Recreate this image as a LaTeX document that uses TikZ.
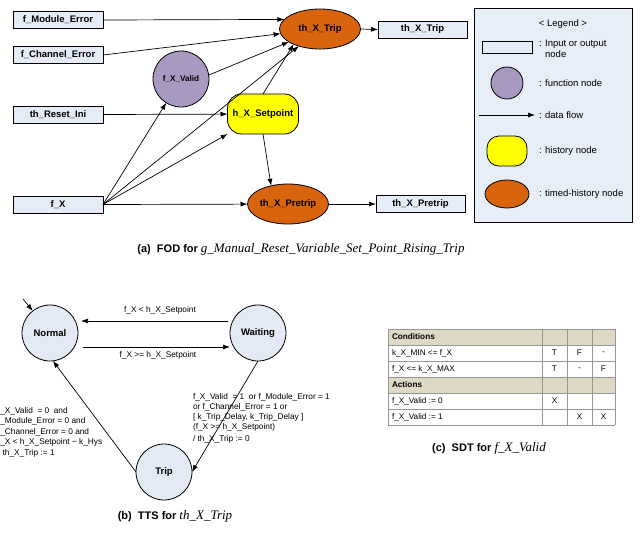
\documentclass[tikz,border=0pt]{standalone}
\usepackage{fontspec}
\setmainfont{Liberation Sans}
\newfontfamily\capserif{Liberation Serif}
\usetikzlibrary{arrows.meta,shapes.geometric}

\definecolor{boxfill}{RGB}{230,236,247}
\definecolor{legfill}{RGB}{232,238,248}
\definecolor{funcfill}{RGB}{168,153,193}
\definecolor{histfill}{RGB}{255,255,0}
\definecolor{timedfill}{RGB}{217,100,14}
\definecolor{statefill}{RGB}{228,234,245}
\definecolor{headfill}{RGB}{222,217,196}
\definecolor{gridgray}{RGB}{150,150,150}

\begin{document}
\begin{tikzpicture}[x=1pt,y=-1pt,
  every node/.style={inner sep=0pt, outer sep=0pt},
  lbl/.style={font=\fontsize{9.5}{11}\selectfont\bfseries},
  iobox/.style={draw, fill=boxfill, line width=0.8pt, minimum width=90pt, minimum height=17pt, lbl},
  funcnode/.style={circle, draw, fill=funcfill, line width=0.8pt, minimum size=56pt, font=\fontsize{8.2}{10}\selectfont\bfseries},
  histnode/.style={draw, fill=histfill, rounded corners=14pt, line width=0.8pt, minimum width=71pt, minimum height=40pt, lbl},
  timednode/.style={ellipse, draw, fill=timedfill, line width=0.8pt, minimum width=81pt, minimum height=40pt, lbl},
  flow/.style={-{Latex[length=7pt,width=5pt]}, line width=0.7pt},
  state/.style={circle, draw, fill=statefill, line width=0.8pt, minimum size=56pt, lbl},
  small/.style={font=\fontsize{8.3}{10}\selectfont},
  legtext/.style={font=\fontsize{9.5}{11}\selectfont, anchor=west},
  cell/.style={font=\fontsize{8.2}{10}\selectfont},
  cellhead/.style={font=\fontsize{8.2}{10}\selectfont\bfseries},
  caplbl/.style={anchor=base, font=\fontsize{11}{13}\selectfont\bfseries}
]
\useasboundingbox (0,0) rectangle (641,533);
\fill[white] (0,0) rectangle (641,533);

% ---------------- (a) function overview diagram ----------------
\node[iobox] (fme) at (58,20)    {f\_Module\_Error};
\node[iobox] (fce) at (58,55)    {f\_Channel\_Error};
\node[iobox] (rst) at (58,114.5) {th\_Reset\_Ini};
\node[iobox] (fx)  at (58,204.5) {f\_X};

\node[funcnode]  (fxv)     at (181,79)  {f\_X\_Valid};
\node[histnode]  (setp)    at (263,114) {h\_X\_Setpoint};
\node[timednode] (trip)    at (320,29)  {th\_X\_Trip};
\node[timednode] (pretrip) at (288,204) {th\_X\_Pretrip};

\node[iobox, minimum width=89pt] (tripout)    at (422.5,29.5) {th\_X\_Trip};
\node[iobox, minimum width=89pt] (pretripout) at (420.5,204)  {th\_X\_Pretrip};

\draw[flow] (fme.east) -- (trip.165);
\draw[flow] (fce.east) -- (trip);
\draw[flow] (fxv.8) -- (trip);
\draw[flow] (fx.east) -- (trip);
\draw[flow] (fx.east) -- (fxv);
\draw[flow] (fx.east) -- (setp);
\draw[flow] (fx.east) -- (pretrip);
\draw[flow] (rst.east) -- (setp);
\draw[flow] (setp.north) -- (trip.-150);
\draw[flow] (setp.south) -- (pretrip.133);
\draw[flow] (trip.east) -- (tripout.west);
\draw[flow] (pretrip.east) -- (pretripout.west);

% legend
\draw[fill=legfill, line width=0.8pt] (474,8) rectangle (632,222);
\node[font=\fontsize{9.5}{11}\selectfont] (legtitle) at (563,24) {< Legend >};
\node[draw, fill=boxfill, line width=0.8pt, minimum width=50pt, minimum height=12pt] (legio) at (507,47) {};
\node[legtext, anchor=north west, align=left] (legiot) at (539,39.5) {: Input or output\\\hphantom{: }node};
\node[funcnode, minimum size=32pt] (legfn) at (507,83) {};
\node[legtext] (legfnt) at (539,83) {: function node};
\coordinate (lgA) at (479,115);
\coordinate (lgB) at (535,115);
\draw[flow] (lgA) -- (lgB);
\node[legtext] (legflt) at (539,115) {: data flow};
\node[histnode, minimum width=40pt, minimum height=30pt, rounded corners=12pt] (leghs) at (507,151) {};
\node[legtext] (leghst) at (539,151) {: history node};
\node[timednode, minimum width=44pt, minimum height=28pt] (legth) at (507,194) {};
\node[legtext] (legtht) at (539,194) {: timed-history node};

\node[caplbl] (capa) at (301,252) {(a)\ \ FOD for {\capserif\mdseries\itshape\fontsize{13}{15}\selectfont g\_Manual\_Reset\_Variable\_Set\_Point\_Rising\_Trip}};

% ---------------- (b) timed transition system ----------------
\node[state] (normal)  at (50,333)  {Normal};
\node[state] (waiting) at (258,333) {Waiting};
\node[state] (trp)     at (164,472) {Trip};

\coordinate (init) at (23,299);
\draw[flow] (init) -- (normal.128);

\draw[flow] ([xshift=-30pt,yshift=12pt]waiting.center) -- ([xshift=31pt,yshift=12pt]normal.center);
\draw[flow] ([xshift=33pt,yshift=-14pt]normal.center) -- ([xshift=-28pt,yshift=-14pt]waiting.center);
\draw[flow] (waiting.south) -- (trp.east);
\draw[flow] (trp.west) -- (normal.-84);

\node[small] (lblwn) at (160,310) {f\_X < h\_X\_Setpoint};
\node[small] (lblnw) at (158,355) {f\_X >= h\_X\_Setpoint};

\node[small, anchor=north west, align=left] (lblwt) at (193,393.5)
  {f\_X\_Valid~ = 1~ or f\_Module\_Error = 1\\
   or f\_Channel\_Error = 1 or\\
   {}[ k\_Trip\_Delay, k\_Trip\_Delay ]\\
   (f\_X >= h\_X\_Setpoint)\\[2pt]
   / th\_X\_Trip := 0};

\node[small, anchor=north west, align=left, font=\fontsize{8.3}{10.5}\selectfont] (lbltn) at (0.3,407)
  {\_X\_Valid~ = 0~ and\\
   \_Module\_Error = 0 and\\
   \_Channel\_Error = 0 and\\
   \_X < h\_X\_Setpoint − k\_Hys\\
   \hspace{2.3pt}th\_X\_Trip := 1};

\node[caplbl] (capb) at (175,519) {(b)\ \ TTS for {\capserif\mdseries\itshape\fontsize{13}{15}\selectfont th\_X\_Trip}};

% ---------------- (c) structured decision table ----------------
\fill[headfill] (388,329) rectangle (615,345);
\fill[headfill] (388,377) rectangle (615,393);
\foreach \yy in {329,345,361,377,393,409,425}
  \draw[gridgray, line width=0.6pt] (388,\yy) -- (615,\yy);
\foreach \xx in {388,542,567,592,615}
  \draw[gridgray, line width=0.6pt] (\xx,329) -- (\xx,425);

\node[cellhead, anchor=west] (tcond) at (392,337) {Conditions};
\node[cell, anchor=west] (tc1) at (392,353) {k\_X\_MIN <= f\_X};
\node[cell, anchor=west] (tc2) at (392,369) {f\_X <= k\_X\_MAX};
\node[cellhead, anchor=west] (tact) at (392,385) {Actions};
\node[cell, anchor=west] (ta1) at (392,401) {f\_X\_Valid := 0};
\node[cell, anchor=west] (ta2) at (392,417) {f\_X\_Valid := 1};

\node[cell] (c11) at (554.5,353) {T};
\node[cell] (c12) at (579.5,353) {F};
\node[cell] (c13) at (603.5,353) {-};
\node[cell] (c21) at (554.5,369) {T};
\node[cell] (c22) at (579.5,369) {-};
\node[cell] (c23) at (603.5,369) {F};
\node[cell] (a11) at (554.5,401) {X};
\node[cell] (a22) at (579.5,417) {X};
\node[cell] (a23) at (603.5,417) {X};

\node[caplbl] (capc) at (489,451) {(c)\ \ SDT for {\capserif\mdseries\itshape\fontsize{13}{15}\selectfont f\_X\_Valid}};
\end{tikzpicture}
\end{document}
